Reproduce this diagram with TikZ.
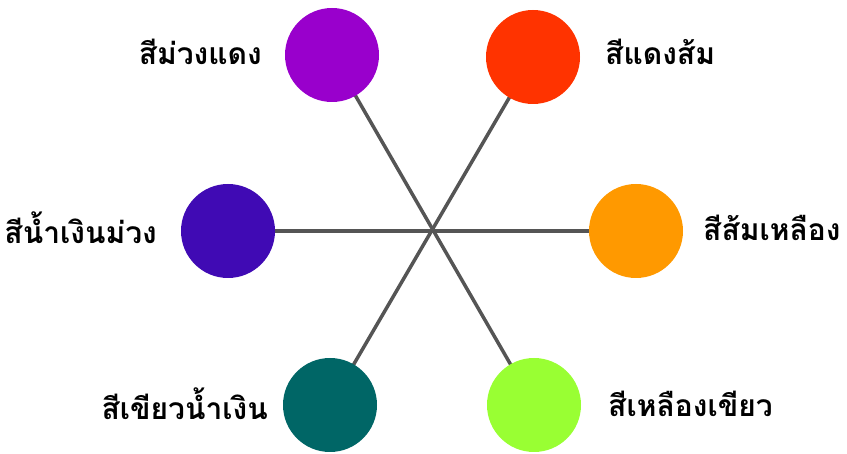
\documentclass[tikz,border=0pt]{standalone}
\usepackage{fontspec}
\usetikzlibrary{backgrounds}
\newfontfamily\thaifont[Script=Thai]{Loma}
\definecolor{cpurple}{HTML}{9900CC}
\definecolor{cred}{HTML}{FF3300}
\definecolor{cindigo}{HTML}{400AB4}
\definecolor{corange}{HTML}{FF9900}
\definecolor{cteal}{HTML}{006666}
\definecolor{clime}{HTML}{99FF33}
\definecolor{cline}{HTML}{555555}
\begin{document}
\begin{tikzpicture}[x=1pt,y=-1pt,
  dot/.style={circle,minimum size=94pt,inner sep=0pt,fill=#1},
  lbl/.style={font=\thaifont\bfseries\fontsize{30}{34}\selectfont,inner sep=0pt},
  spoke/.style={draw=cline,line width=3.5pt}]
\useasboundingbox (0,0) rectangle (847,454);
\node[dot=cpurple] (p) at (332,55) {};
\node[dot=cred] (r) at (533,57) {};
\node[dot=cindigo] (i) at (228,231) {};
\node[dot=corange] (o) at (636,231) {};
\node[dot=cteal] (t) at (330,405) {};
\node[dot=clime] (l) at (534,405) {};
\begin{scope}[on background layer]
\draw[spoke] (p.center) -- (l.center);
\draw[spoke] (r.center) -- (t.center);
\draw[spoke] (i.center) -- (o.center);
\end{scope}
\node[lbl,anchor=east] (pl) at (262,52) {สีม่วงแดง};
\node[lbl,anchor=west] (rl) at (605,52) {สีแดงส้ม};
\node[lbl,anchor=east] (il) at (157,228) {สีน้ำเงินม่วง};
\node[lbl,anchor=west] (ol) at (703,228) {สีส้มเหลือง};
\node[lbl,anchor=east] (tl) at (268,404) {สีเขียวน้ำเงิน};
\node[lbl,anchor=west] (ll) at (608,404) {สีเหลืองเขียว};
\end{tikzpicture}
\end{document}
